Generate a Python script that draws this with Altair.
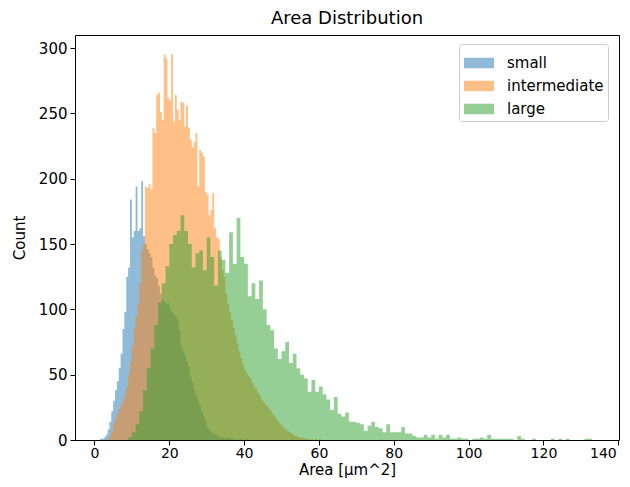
import altair as alt
import pandas as pd

# ---- data (histogram bin counts) ----
series_names = ["small", "intermediate", "large"]
series_colors = ["#1f77b4", "#ff7f0e", "#2ca02c"]

small_start = 1.5
small_width = 0.5
small_counts = [
    1, 1, 2, 4, 8, 14, 22, 30, 38, 45, 55, 66, 85, 98, 125, 132, 184, 155, 160, 194,
    160, 162, 198, 156, 150, 146, 143, 140, 132, 126, 124, 118, 112, 108, 106, 104,
    105, 100, 98, 96, 95, 92, 84, 72, 68, 65, 60, 56, 48, 44, 38, 34, 30, 26, 22, 18,
    14, 10, 8, 6, 5, 4, 4, 3, 2, 2, 2, 1, 2, 1, 1, 1, 0, 1, 0, 1, 0, 0, 1,
]

inter_start = 3.5
inter_width = 0.5
inter_counts = [
    1, 3, 7, 12, 17, 20, 24, 27, 30, 35, 41, 50, 60, 72, 85, 95, 104, 120, 145, 150,
    194, 193, 196, 192, 239, 235, 264, 266, 251, 245, 295, 292, 262, 260, 295, 244,
    264, 253, 245, 259, 258, 240, 256, 239, 230, 224, 228, 235, 194, 222, 220, 217,
    190, 188, 172, 176, 189, 162, 155, 154, 140, 130, 125, 112, 104, 98, 92, 86, 80,
    74, 68, 63, 58, 54, 51, 49, 47, 44, 41, 39, 36, 34, 31, 29, 27, 26, 24, 22, 20,
    18, 16, 14, 12, 11, 9, 8, 7, 6, 5, 4, 3, 3, 2, 2, 2, 1, 1, 1, 0, 1, 0, 1, 0, 1,
]

large_start = 9.0
large_width = 1.0
large_counts = [
    2, 6, 12, 22, 38, 55, 70, 88, 105, 120, 133, 150, 157, 160, 172, 160, 150, 132,
    143, 145, 130, 155, 140, 118, 145, 138, 128, 159, 135, 170, 140, 135, 110, 120,
    108, 122, 100, 88, 84, 70, 62, 68, 75, 59, 66, 55, 50, 47, 37, 46, 37, 41, 35, 31,
    23, 33, 20, 18, 21, 14, 14, 13, 12, 7, 11, 14, 10, 9, 6, 12, 6, 6, 6, 10, 5, 5, 3,
    2, 2, 4, 2, 4, 1, 4, 2, 4, 1, 1, 2, 1, 1, 0, 1, 1, 2, 1, 4, 1, 1, 1, 1, 1, 1, 0, 3,
    1, 0, 0, 1, 0, 0, 0, 0, 1, 0, 1, 0, 1, 0, 0, 0, 0, 1, 1, 0,
]

x_ticks = [0, 20, 40, 60, 80, 100, 120, 140]
y_ticks = [0, 50, 100, 150, 200, 250, 300]


def step_rows(name, start, width, counts):
    # left edge of every bin, plus the right edge of the last bin
    xs = [start + i * width for i in range(len(counts) + 1)]
    ys = list(counts) + [counts[-1]]
    return pd.DataFrame({"series": [name] * len(xs), "x": xs, "count": ys})


frames = {
    "small": step_rows("small", small_start, small_width, small_counts),
    "intermediate": step_rows("intermediate", inter_start, inter_width, inter_counts),
    "large": step_rows("large", large_start, large_width, large_counts),
}

FONT = "DejaVu Sans"

color_scale = alt.Scale(domain=series_names, range=series_colors)
x_scale = alt.Scale(domain=[-5.2, 140.2], nice=False, zero=False)
y_scale = alt.Scale(domain=[0, 310], nice=False)

legend = alt.Legend(
    title=None,
    orient="none",
    legendX=384,
    legendY=9,
    symbolType="M-1,-0.35L1,-0.35L1,0.35L-1,0.35Z",
    symbolSize=900,
    symbolOpacity=0.5,
    symbolStrokeWidth=0,
    symbolOffset=1,
    labelFont=FONT,
    labelFontSize=15,
    labelColor="black",
    labelOffset=13,
    rowPadding=0,
    padding=4,
    strokeColor="#cccccc",
    fillColor="white",
    cornerRadius=3,
)

layers = []
for name in series_names:
    layers.append(
        alt.Chart(frames[name])
        .mark_area(interpolate="step-after", opacity=0.5)
        .encode(
            x=alt.X("x:Q", scale=x_scale,
                    axis=alt.Axis(values=x_ticks, title="Area [µm^2]",
                                  labelFlush=True, labelFlushOffset=-2)),
            y=alt.Y("count:Q", scale=y_scale,
                    axis=alt.Axis(values=y_ticks, title="Count")),
            y2=alt.datum(0),
            color=alt.Color("series:N", scale=color_scale, legend=legend),
        )
    )

chart = (
    alt.layer(*layers)
    .properties(
        width=544,
        height=405,
        title=alt.TitleParams(
            "Area Distribution", font=FONT, fontSize=18, fontWeight="normal",
            color="black", offset=7, anchor="middle",
        ),
        padding={"left": 67, "top": 27, "right": 3, "bottom": 39},
        autosize=alt.AutoSizeParams(type="none"),
    )
    .configure_view(stroke="black", strokeWidth=1)
    .configure_axis(
        grid=False,
        domain=False,
        tickColor="black",
        tickWidth=1,
        tickSize=5,
        labelFont=FONT,
        labelFontSize=15,
        labelColor="black",
        labelPadding=3,
        titleFont=FONT,
        titleFontSize=15,
        titleFontWeight="normal",
        titleColor="black",
    )
    .configure_axisX(titlePadding=2, tickSize=5, labelPadding=1, labelFontSize=14)
    .configure_axisY(titlePadding=11)
)

chart.save("out.html", embed_options={"renderer": "svg", "actions": False})
